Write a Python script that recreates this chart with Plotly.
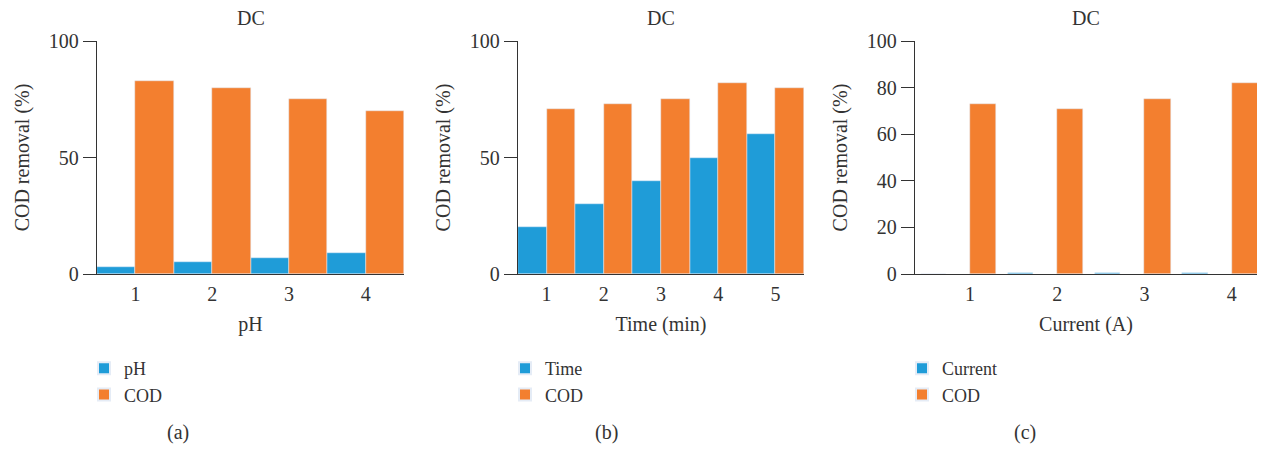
import plotly.graph_objects as go

# page body has an 8px margin: the figure is drawn at (8, 8)
OFF = 8
W, H = 1266 - OFF, 449 - OFF

# ---- data ----
ph_cats = ["1", "2", "3", "4"]
ph_values = [3, 5, 7, 9]
ph_cod = [83, 80, 75, 70]

time_cats = ["1", "2", "3", "4", "5"]
time_values = [20, 30, 40, 50, 60]
time_cod = [71, 73, 75, 82, 80]

current_x = [1, 2, 3, 4]
current_values = [0, 0.3, 0.3, 0.4]
current_cod = [73, 71, 75, 82]

BLUE = "#1F9CD8"
ORANGE = "#F37F2F"
TXT = "#333333"
FONT = "Liberation Serif"
FS = 20
LFS = 18

def px_x(p):
    return (p - OFF) / W

def px_y(p):
    return 1 - (p - OFF) / H

fig = go.Figure()

# panel a
fig.add_trace(go.Bar(x=ph_cats, y=ph_values, name="pH", marker_color=BLUE,
                     xaxis="x", yaxis="y", legend="legend"))
fig.add_trace(go.Bar(x=ph_cats, y=ph_cod, name="COD", marker_color=ORANGE,
                     xaxis="x", yaxis="y", legend="legend"))
# panel b
fig.add_trace(go.Bar(x=time_cats, y=time_values, name="Time", marker_color=BLUE,
                     xaxis="x2", yaxis="y2", legend="legend2"))
fig.add_trace(go.Bar(x=time_cats, y=time_cod, name="COD", marker_color=ORANGE,
                     xaxis="x2", yaxis="y2", legend="legend2"))
# panel c
fig.add_trace(go.Bar(x=current_x, y=current_values, name="Current", marker_color=BLUE,
                     offset=-0.565, width=0.29,
                     xaxis="x3", yaxis="y3", legend="legend3"))
fig.add_trace(go.Bar(x=current_x, y=current_cod, name="COD", marker_color=ORANGE,
                     offset=0, width=0.3,
                     xaxis="x3", yaxis="y3", legend="legend3"))

ydom = [px_y(274), px_y(41)]
panels = [
    (97, 404, "pH"),
    (518, 804, "Time (min)"),
    (915, 1257, "Current (A)"),
]

common_y = dict(range=[0, 100], showline=True, linecolor=TXT, linewidth=1.3,
                ticks="outside", ticklen=13, tickcolor=TXT, tickwidth=1.3,
                showgrid=False, zeroline=False, automargin=False,
                tickfont=dict(family=FONT, size=FS, color=TXT),
                title=dict(text="COD removal (%)", font=dict(family=FONT, size=FS, color=TXT),
                           standoff=13))
common_x = dict(showline=True, linecolor=TXT, linewidth=1.3, showgrid=False, zeroline=False,
                ticks="outside", ticklen=2, tickcolor="rgba(0,0,0,0)", automargin=False,
                tickfont=dict(family=FONT, size=FS, color=TXT))

layout = dict(
    width=W, height=H, margin=dict(l=0, r=0, t=0, b=0, autoexpand=False),
    paper_bgcolor="white", plot_bgcolor="white",
    barmode="group", bargap=0, bargroupgap=0,
    font=dict(family=FONT, color=TXT),
)

for i, (x0, x1, xt) in enumerate(panels):
    sfx = "" if i == 0 else str(i + 1)
    xa = dict(common_x, domain=[px_x(x0), px_x(x1)], anchor="y" + sfx,
              title=dict(text=xt, font=dict(family=FONT, size=FS, color=TXT), standoff=12))
    ya = dict(common_y, domain=ydom, anchor="x" + sfx)
    if i == 0:
        xa.update(type="category", range=[-0.5, 3.5])
        ya.update(tickvals=[0, 50, 100])
    elif i == 1:
        xa.update(type="category", range=[-0.5, 4.5])
        ya.update(tickvals=[0, 50, 100])
    else:
        xa.update(range=[0.37, 4.29], tickvals=current_x, ticktext=["1", "2", "3", "4"])
        ya.update(tickvals=[0, 20, 40, 60, 80, 100])
    layout["xaxis" + sfx] = xa
    layout["yaxis" + sfx] = ya

    leg = dict(x=px_x(x0 - 13), y=px_y(350), xanchor="left", yanchor="top",
               bgcolor="rgba(0,0,0,0)", font=dict(family=FONT, size=LFS, color=TXT),
               tracegroupgap=0, itemsizing="constant")
    layout["legend" + sfx] = leg

fig.update_layout(**layout)

anns = []
for (x0, x1, _) in panels:
    anns.append(dict(text="DC", x=px_x((x0 + x1) / 2), y=px_y(18), xref="paper", yref="paper",
                     xanchor="center", yanchor="middle",
                     showarrow=False, font=dict(family=FONT, size=FS, color=TXT)))
caps_x = [178, 606, 1025]
for cx, cap in zip(caps_x, ["(a)", "(b)", "(c)"]):
    anns.append(dict(text=cap, x=px_x(cx), y=px_y(432), xref="paper", yref="paper",
                     xanchor="center", yanchor="middle",
                     showarrow=False, font=dict(family=FONT, size=FS, color=TXT)))
fig.update_layout(annotations=anns, showlegend=True)

fig.write_html("out.html")
